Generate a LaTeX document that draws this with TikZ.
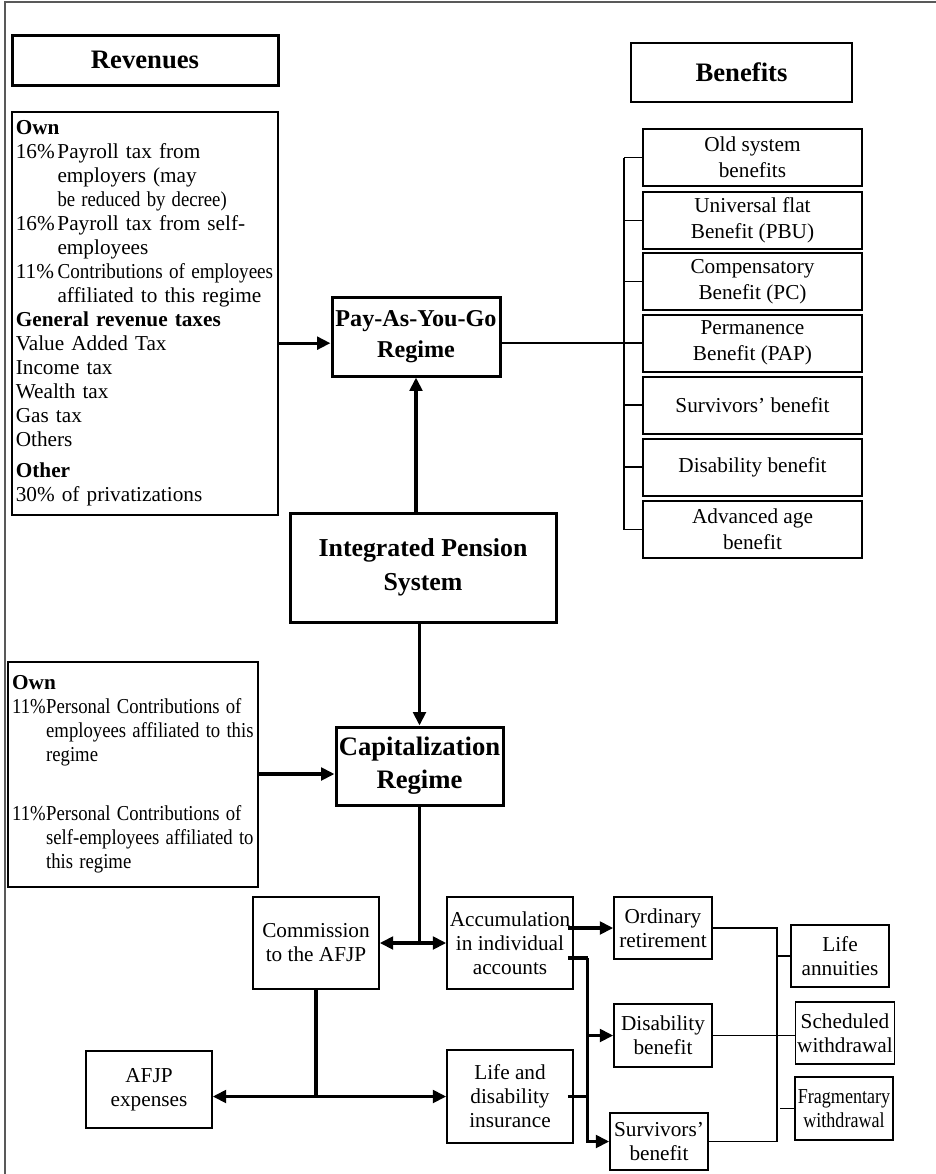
\documentclass[tikz,border=0pt]{standalone}
\usepackage{graphicx}
\usepackage{fontspec}
\setmainfont{Liberation Serif}
\usetikzlibrary{arrows.meta}

\newcommand{\squeeze}[2][0.9]{\scalebox{#1}[1]{#2}}

\begin{document}
\begin{tikzpicture}[x=0.6pt,y=-0.6pt,
    headbox/.style={draw,line width=1.8pt,align=center,inner sep=1pt,
        font=\bfseries\fontsize{16}{19}\selectfont},
    regbox/.style={draw,line width=1.8pt,align=center,inner sep=1pt},
    listbox/.style={draw,align=left,inner sep=2pt,
        execute at begin node={\hyphenpenalty=10000}},
    benbox/.style={draw,line width=1.2pt,align=center,inner sep=1pt,
        minimum width=131.4pt,minimum height=34.2pt,
        font=\fontsize{12.75}{15.6}\selectfont},
    smallbox/.style={draw,line width=0.9pt,align=center,inner sep=1pt,
        font=\fontsize{12.75}{14.4}\selectfont},
    thickarrow/.style={line width=2pt,-{Triangle[length=8pt,width=7.5pt]}},
    thickdbl/.style={line width=2pt,{Triangle[length=8pt,width=7.5pt]}-{Triangle[length=8pt,width=7.5pt]}},
    thickline/.style={line width=2pt},
    thinline/.style={line width=0.9pt},
    ]
\useasboundingbox (0,0) rectangle (936,1174);

%-------------------------------------------- Frame (top and left only)
\draw[gray!70!black,line width=1.2pt] (5,1174) -- (5,2) -- (936,2);

%-------------------------------------------- Headers
\node[headbox,minimum width=159.6pt,minimum height=30pt] (revhead) at (145,60) {Revenues};
\node[headbox,line width=1.4pt,minimum width=132.6pt,minimum height=35.4pt] (benhead) at (741.5,72.5) {Benefits};

%-------------------------------------------- Pay-As-You-Go side
\node[listbox,line width=1.5pt,minimum width=159.6pt,minimum height=241.8pt,text width=155pt,
      font=\fontsize{12.75}{14.4}\selectfont] (revlist) at (145,313.5) {%
\textbf{Own}\\
\makebox[25pt][l]{16\%}Payroll tax from\\
\hspace*{25pt}employers (may\\
\hspace*{25pt}\squeeze[0.88]{be reduced by decree)}\\
\makebox[25pt][l]{16\%}Payroll tax from self-\\
\hspace*{25pt}employees\\
\makebox[25pt][l]{11\%}\squeeze[0.9]{Contributions of employees}\\
\hspace*{25pt}affiliated to this regime\\
\textbf{General revenue taxes}\\
Value Added Tax\\
Income tax\\
Wealth tax\\
Gas tax\\
Others\\[4pt]
\textbf{Other}\\
30\% of privatizations};

\node[regbox,minimum width=100.8pt,minimum height=47.4pt,
      font=\bfseries\fontsize{14.5}{18.6}\selectfont] (payg) at (416,336.5) {Pay-As-You-Go\\Regime};

\node[regbox,minimum width=159.6pt,minimum height=65.4pt,
      font=\bfseries\fontsize{15.5}{20.4}\selectfont] (ips) at (423,567.5) {Integrated Pension\\System};

% Benefits list
\node[benbox] (b1) at (752.5,157.5) {Old system\\benefits};
\node[benbox] (b2) at (752.5,220.5) {Universal flat\\Benefit (PBU)};
\node[benbox] (b3) at (752.5,281.5) {Compensatory\\Benefit (PC)};
\node[benbox] (b4) at (752.5,343) {Permanence\\Benefit (PAP)};
\node[benbox] (b5) at (752.5,405) {Survivors' benefit};
\node[benbox] (b6) at (752.5,467) {Disability benefit};
\node[benbox] (b7) at (752.5,529.5) {Advanced age\\benefit};

\coordinate (bracket) at (624,0);
\draw[thinline] (bracket |- b1.west) -- (bracket |- b7.west);
\foreach \i in {1,...,7}
    \draw[thinline] (bracket |- b\i.west) -- (b\i.west);

% Arrows
\coordinate (paygin) at ([yshift=-4pt]payg.west);
\coordinate (paygout) at ([yshift=-4pt]payg.east);
\draw[thickarrow] (revlist.east |- paygin) -- (paygin);
\draw[thinline] (paygout) -- (bracket |- paygout);
\draw[thickarrow] (ips.north -| payg.south) -- (payg.south);

%-------------------------------------------- Capitalization side
\node[regbox,minimum width=100.2pt,minimum height=46.8pt,
      font=\bfseries\fontsize{16}{19.8}\selectfont] (cap) at (419.5,766) {Capitalization\\Regime};
\draw[thickarrow] (ips.south -| cap.north) -- (cap.north);

\node[listbox,line width=0.9pt,minimum width=150pt,minimum height=135pt,text width=145pt,
      font=\fontsize{12.75}{14.4}\selectfont] (caprev) at (133,774.5) {%
\textbf{Own}\\
\makebox[20.4pt][l]{\squeeze[0.88]{11\%}}\squeeze[0.88]{Personal Contributions of}\\
\hspace*{20.4pt}\squeeze[0.88]{employees affiliated to this}\\
\hspace*{20.4pt}\squeeze[0.88]{regime}\\[21pt]
\makebox[20.4pt][l]{\squeeze[0.88]{11\%}}\squeeze[0.88]{Personal Contributions of}\\
\hspace*{20.4pt}\squeeze[0.88]{self-employees affiliated to}\\
\hspace*{20.4pt}\squeeze[0.88]{this regime}};
\coordinate (capin) at ([yshift=-4.8pt]cap.west);
\draw[thickarrow] (caprev.east |- capin) -- (capin);

% Commission and accounts
\node[smallbox,minimum width=75.6pt,minimum height=55.2pt] (comm) at (316,943) {Commission\\to the AFJP};
\node[smallbox,minimum width=75.6pt,minimum height=55.2pt] (accum) at (510,943) {Accumulation\\in individual\\accounts};
\node[smallbox,minimum width=75.6pt,minimum height=46.2pt] (afjp) at (149,1089.5) {AFJP\\expenses};
\node[smallbox,minimum width=75.6pt,minimum height=55.8pt] (life) at (510,1096.5) {Life and\\disability\\insurance};

\coordinate (capjoin) at (cap.south |- comm.east);
\draw[thickline] (cap.south) -- (capjoin);
\draw[thickdbl] (comm.east) -- (accum.west);

\coordinate (commjoin) at (comm.south |- life.west);
\draw[thickline] (comm.south) -- (commjoin);
\draw[thickdbl] (afjp.east |- commjoin) -- (life.west);

% Benefits of the capitalization regime
\node[smallbox,minimum width=58.8pt,minimum height=37.2pt] (ordret) at (663,928) {Ordinary\\retirement};
\node[smallbox,minimum width=58.8pt,minimum height=37.8pt] (disben) at (663,1035.5) {Disability\\benefit};
\node[smallbox,minimum width=58.8pt,minimum height=34.2pt] (survben) at (659,1141.5) {Survivors'\\benefit};

\coordinate (bus) at ([xshift=8.4pt]accum.east);
\coordinate (accout) at ([xshift=-3.6pt,yshift=-9pt]accum.east);
\draw[thickarrow] ([xshift=-3.6pt]accum.east |- ordret.west) -- (ordret.west);
\draw[thickline] (accout) -- (accout -| bus);
\draw[thickarrow] (accout -| bus) |- (survben.west);
\draw[thickarrow] (bus |- disben.west) -- (disben.west);
\draw[thickline] ([xshift=-3.6pt]life.east) -- (life.east -| bus);

% Withdrawal modes
\node[smallbox,minimum width=58.8pt,minimum height=37.2pt] (lifeann) at (840,956) {Life\\annuities};
\node[smallbox,minimum width=58.8pt,minimum height=37.2pt] (schedw) at (845,1033) {Scheduled\\withdrawal};
\node[smallbox,minimum width=58.8pt,minimum height=37.8pt] (fragw) at (844,1108.5)
    {\squeeze[0.85]{Fragmentary}\\\squeeze[0.85]{withdrawal}};

\coordinate (rbus) at (777,0);
\draw[thinline] (ordret.east) -| (rbus |- survben.east) -- (survben.east);
\draw[thinline] (rbus |- lifeann.west) -- (lifeann.west);
\draw[thinline] (disben.east) -- (disben.east -| schedw.west);
\draw[thinline] ([xshift=-8.4pt]fragw.west) -- (fragw.west);

\end{tikzpicture}
\end{document}
